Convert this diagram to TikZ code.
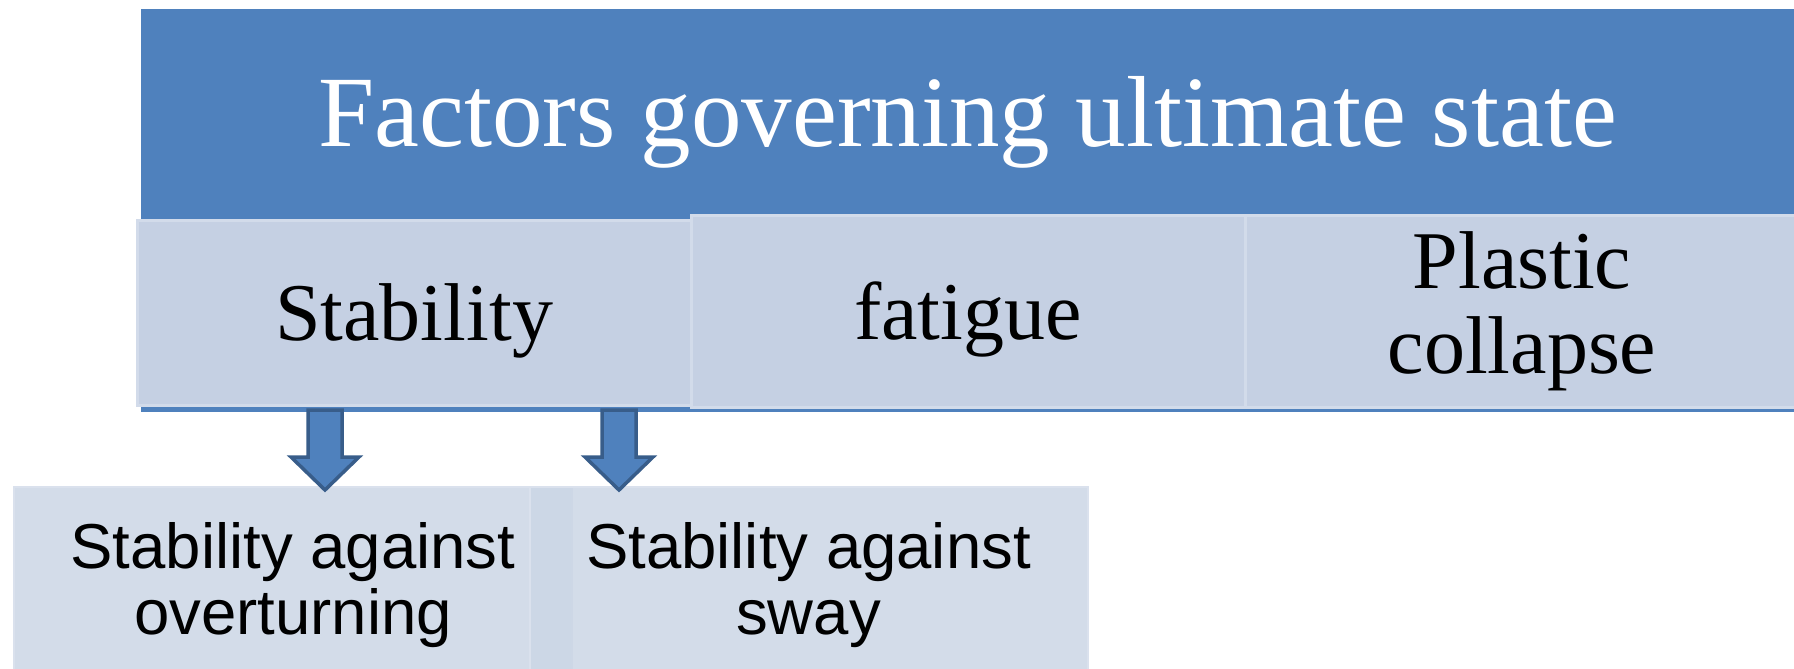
\documentclass[tikz,border=0pt]{standalone}
\usepackage{fontspec}
\setmainfont{Liberation Serif}
\newfontfamily\arialfont{Liberation Sans}
\definecolor{hdrblue}{RGB}{79,129,189}
\definecolor{arrowline}{RGB}{56,93,138}
\definecolor{midfill}{RGB}{197,208,227}
\definecolor{midline}{RGB}{210,219,234}
\definecolor{lowfill}{RGB}{203,214,229}
\definecolor{lowline}{RGB}{218,225,237}
\tikzset{blockdown/.pic = {
  \filldraw[fill = hdrblue, draw = arrowline, line width = 1.75pt]
    (-17,0) -- (-17,47) -- (-34,47) -- (0,80) -- (34,47) -- (17,47) -- (17,0) -- cycle;
}}

\begin{document}
\begin{tikzpicture}[x = 0.5pt, y = -0.5pt,
  midbox/.style = {draw = midline, line width = 1.5pt, fill = midfill, inner sep = 0pt,
    minimum width = 277pt, align = center, font = \fontsize{41}{42.5}\selectfont},
  lowbox/.style = {draw = lowline, line width = 1pt, fill = lowfill, fill opacity = 0.85,
    text opacity = 1, inner sep = 0pt, minimum width = 279pt, minimum height = 98.5pt,
    align = center, font = \arialfont\fontsize{31.75}{33}\selectfont}]
\useasboundingbox (0,0) rectangle (1794,669);
\clip (0,0) rectangle (1794,669);
% header
\fill[hdrblue] (141,9) rectangle (1794,412);
\node[anchor = base, text = white, font = \fontsize{50.5}{55}\selectfont] (title) at (967.5,146) {Factors governing ultimate state};
% factors
\node[midbox, text depth = 0pt, minimum height = 92.5pt] (stab) at (414,312.5) {Stability};
\node[midbox, text depth = 0pt, minimum height = 96pt] (fat) at (968,311) {fatigue};
\node[midbox, minimum height = 96pt] (plast) at (1522,311) {Plastic\\collapse};
% kinds of stability
\node[lowbox] (ovt) at (293,585.5) {Stability against\\overturning};
\node[lowbox] (sway) at (808.5,585.5) {Stability against\\sway};
\coordinate (arr1) at (325,410);
\coordinate (arr2) at (619,410);
\pic at (arr1) {blockdown};
\pic at (arr2) {blockdown};
\end{tikzpicture}
\end{document}
